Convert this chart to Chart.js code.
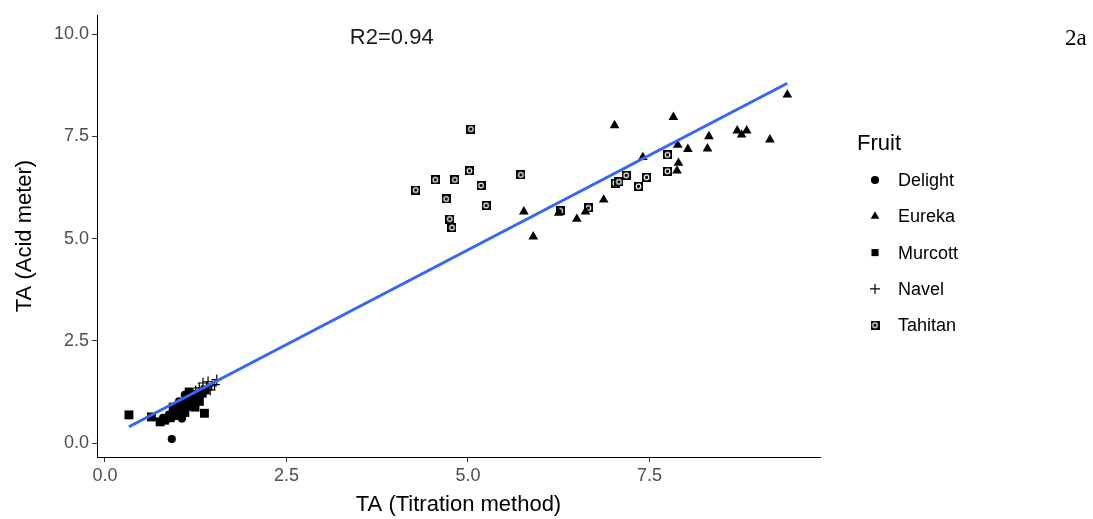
<!DOCTYPE html>
<html>
<head>
<meta charset="utf-8">
<script src="https://cdn.jsdelivr.net/npm/chart.js@4.4.1/dist/chart.umd.min.js"></script>
<style>
  html, body { margin:0; padding:0; background:#fff; }
  #wrap { position:relative; width:1093px; height:519px; }
  #tag { position:absolute; left:1065px; top:25px; font-family:"Liberation Serif","DejaVu Serif",serif; font-size:23px; color:#000; }
</style>
</head>
<body>
<div id="wrap">
  <canvas id="chart" width="1093" height="519"></canvas>
  <div id="tag">2a</div>
</div>
<script>
// Data: TA by titration (x) vs acid meter (y)
const fruits = ['Delight', 'Eureka', 'Murcott', 'Navel', 'Tahitan'];

const delightX = [0.92, 0.80, 0.88, 0.95, 1.00, 1.05, 1.08, 1.12, 1.15, 1.18, 1.22, 1.25, 1.28, 1.02, 0.98, 1.10, 1.32, 1.20, 0.85, 1.06];
const delightY = [0.10, 0.62, 0.70, 0.78, 0.85, 0.72, 0.95, 1.05, 0.88, 1.12, 1.20, 1.00, 1.15, 1.02, 0.66, 1.18, 1.25, 0.95, 0.58, 0.60];

const eurekaX = [5.77, 5.90, 6.25, 6.50, 6.62, 6.87, 7.02, 7.41, 7.83, 7.89, 7.90, 7.88, 8.03, 8.30, 8.32, 8.71, 8.84, 8.77, 9.16, 9.40];
const eurekaY = [5.66, 5.05, 5.63, 5.48, 5.66, 5.95, 7.77, 6.99, 7.97, 7.29, 6.85, 6.66, 7.19, 7.20, 7.50, 7.64, 7.64, 7.54, 7.42, 8.52];

const murcottX = [0.33, 0.64, 0.76, 1.37, 0.82, 0.90, 0.96, 1.02, 1.08, 1.14, 1.20, 1.26, 1.30, 1.34, 1.16, 1.10, 0.94, 1.24, 1.38];
const murcottY = [0.69, 0.64, 0.52, 0.73, 0.56, 0.62, 0.70, 0.80, 0.86, 0.96, 1.05, 1.12, 1.02, 1.22, 1.25, 0.75, 0.88, 0.88, 1.30];

const navelX = [1.35, 1.54, 1.51, 1.40, 1.45, 1.30, 1.25, 1.20, 1.42, 1.47];
const navelY = [1.47, 1.55, 1.43, 1.38, 1.30, 1.35, 1.28, 1.22, 1.50, 1.40];

const tahitanX = [4.28, 4.55, 4.70, 4.75, 4.78, 4.82, 5.02, 5.04, 5.18, 5.25, 5.73, 6.27, 6.66, 7.03, 7.08, 7.18, 7.35, 7.46, 7.75, 7.75];
const tahitanY = [6.19, 6.44, 5.97, 5.48, 5.27, 6.44, 6.66, 7.68, 6.30, 5.81, 6.56, 5.68, 5.75, 6.36, 6.39, 6.55, 6.28, 6.50, 7.05, 6.65];

// fitted lm line, end points at min / max x
const fitX = [0.33, 9.40];
const fitY = [0.40, 8.80];

const xTicks = [0, 2.5, 5, 7.5];
const yTicks = [0, 2.5, 5, 7.5, 10];
const r2Label = 'R2=0.94';
const r2Pos = [3.95, 9.92];

function pts(xs, ys){ return xs.map((x, i) => ({x, y: ys[i]})); }

// Tahitan marker: black square with a white ring
function tahitanMark(){
  const c = document.createElement('canvas'); c.width = 9; c.height = 9;
  const g = c.getContext('2d');
  g.fillStyle = '#000'; g.fillRect(0, 0, 9, 9);
  g.strokeStyle = '#fff'; g.lineWidth = 1.2;
  g.beginPath(); g.arc(4.5, 4.5, 2.3, 0, Math.PI * 2); g.stroke();
  return c;
}

const FONT = '"Liberation Sans", Arial, sans-serif';

function ptSet(label, data, style, radius, bw){
  return { label, data, type:'scatter', pointStyle: style, pointRadius: radius, pointHoverRadius: radius,
    pointBackgroundColor:'#000', pointBorderColor:'#000', pointBorderWidth: bw, showLine:false, order: 1 };
}

const datasets = [
  { label:'fit', data: pts(fitX, fitY), type:'line', borderColor:'#3366FF', borderWidth:3, pointRadius:0, fill:false, order: 0 },
  ptSet('Delight', pts(delightX, delightY), 'circle', 4.1, 0),
  ptSet('Eureka', pts(eurekaX, eurekaY), 'triangle', 5.6, 0),
  ptSet('Murcott', pts(murcottX, murcottY), 'rect', 6.3, 0),
  ptSet('Navel', pts(navelX, navelY), 'cross', 5.2, 1.2),
  ptSet('Tahitan', pts(tahitanX, tahitanY), tahitanMark(), 4.5, 0)
];

// R2 text + legend drawn on the canvas
const extras = {
  id: 'extras',
  afterDraw(chart){
    const ctx = chart.ctx;
    const xs = chart.scales.x, ys = chart.scales.y;
    ctx.save();
    ctx.fillStyle = '#1a1a1a';
    ctx.font = '22px ' + FONT; ctx.textAlign = 'center'; ctx.textBaseline = 'middle';
    ctx.fillText(r2Label, xs.getPixelForValue(r2Pos[0]), ys.getPixelForValue(r2Pos[1]));

    ctx.textAlign = 'left';
    ctx.fillStyle = '#000';
    ctx.font = '22px ' + FONT;
    ctx.fillText('Fruit', 857, 144);
    fruits.forEach((f, i) => {
      const ds = chart.data.datasets.find(d => d.label === f);
      const y = 180 + i * 36.3;
      ctx.fillStyle = '#000'; ctx.strokeStyle = '#000'; ctx.lineWidth = ds.pointBorderWidth || 1;
      Chart.helpers.drawPoint(ctx, { pointStyle: ds.pointStyle, radius: Math.min(ds.pointRadius, 5), rotation: 0, borderWidth: ds.pointBorderWidth }, 875, y);
      ctx.fillStyle = '#000';
      ctx.font = '18px ' + FONT;
      ctx.fillText(f, 898, y + 1);
    });
    ctx.restore();
  }
};

const axisCommon = {
  type: 'linear',
  grid: { display:true, drawOnChartArea:false, drawTicks:true, tickLength:5, color:'#333', lineWidth:1 },
  border: { display:true, color:'#000', width:1 },
  ticks: { color:'#4d4d4d', font:{ family: FONT, size:18 }, padding:3, callback: v => Number(v).toFixed(1) }
};

new Chart(document.getElementById('chart').getContext('2d'), {
  type: 'scatter',
  data: { datasets },
  options: {
    responsive: false,
    animation: false,
    events: [],
    layout: { padding: { left:0, top:15, right:273, bottom:0 } },
    plugins: { legend: { display:false }, tooltip: { enabled:false } },
    scales: {
      x: Object.assign({}, axisCommon, {
        min: -0.11, max: 9.85,
        afterBuildTicks: s => { s.ticks = xTicks.map(v => ({ value: v })); },
        afterFit: s => { s.height = 62; },
        title: { display:true, text:'TA (Titration method)', color:'#000', font:{ family: FONT, size:22 }, padding:{ top:4, bottom:1 } }
      }),
      y: Object.assign({}, axisCommon, {
        min: -0.34, max: 10.47,
        afterBuildTicks: s => { s.ticks = yTicks.map(v => ({ value: v })); },
        afterFit: s => { s.width = 97; },
        title: { display:true, text:'TA (Acid meter)', color:'#000', font:{ family: FONT, size:22 }, padding:{ top:12, bottom:4 } }
      })
    }
  },
  plugins: [extras]
});
</script>
</body>
</html>
